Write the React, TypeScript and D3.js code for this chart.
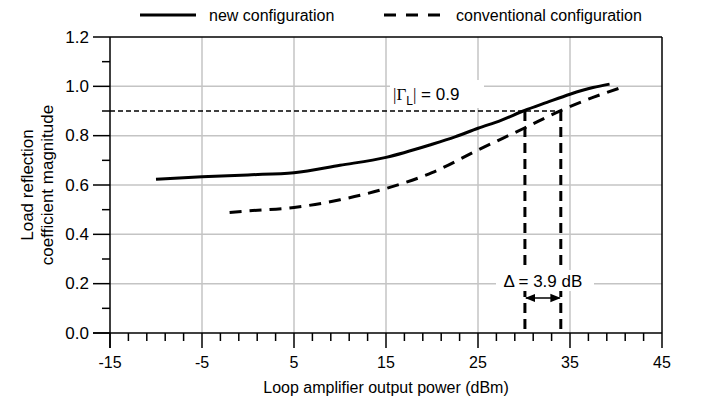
import * as d3 from "d3";

// new configuration (solid)
const newX = [-10, -5, 0, 5, 10, 15, 20, 22.5, 25, 27.5, 30, 32.5, 35, 37.5, 39.3];
const newY = [0.623, 0.633, 0.641, 0.65, 0.68, 0.712, 0.765, 0.795, 0.83, 0.862, 0.901, 0.935, 0.968, 0.995, 1.009];

// conventional configuration (dashed)
const convX = [-2, 0, 5, 10, 15, 20, 25, 30, 34, 37.5, 40.8];
const convY = [0.489, 0.495, 0.509, 0.54, 0.586, 0.65, 0.742, 0.83, 0.902, 0.955, 0.998];

const xMajor = [-15, -5, 5, 15, 25, 35, 45];
const yMajor = [0, 0.2, 0.4, 0.6, 0.8, 1.0, 1.2];
const yLabels = ["0.0", "0.2", "0.4", "0.6", "0.8", "1.0", "1.2"];

const gammaLevel = 0.9;
const newCross = 30.1;
const convCross = 34.0;

type Pt = { x: number; y: number };

export default function App() {
  const width = 701;
  const height = 407;
  const margin = { top: 37, right: 39, bottom: 74, left: 110 };
  const x = d3.scaleLinear().domain([-15, 45]).range([margin.left, width - margin.right]);
  const y = d3.scaleLinear().domain([0, 1.2]).range([height - margin.bottom, margin.top]);

  const xMinor = d3.range(-15, 45.01, 2).filter((v) => !xMajor.includes(v));
  const yMinor = d3.range(0.1, 1.2, 0.2);

  const line = d3.line<Pt>().x((d) => x(d.x)).y((d) => y(d.y)).curve(d3.curveMonotoneX);
  const newPath = line(newX.map((v, i) => ({ x: v, y: newY[i] })));
  const convPath = line(convX.map((v, i) => ({ x: v, y: convY[i] })));

  const font = "'Liberation Sans', Arial, sans-serif";
  const x0 = margin.left;
  const x1 = width - margin.right;
  const y0 = height - margin.bottom;
  const y1 = margin.top;

  return (
    <svg width={width} height={height} style={{ position: "absolute", left: 0, top: 0, background: "#fff" }} fontFamily={font}>
      <defs>
        <marker id="ah" viewBox="0 0 10 10" refX="9" refY="5" markerWidth="7" markerHeight="7" orient="auto-start-reverse">
          <path d="M0,1 L10,5 L0,9 z" fill="#000" />
        </marker>
      </defs>

      {/* grid */}
      {xMajor.slice(1, -1).map((t) => (
        <line key={`gx${t}`} x1={x(t)} x2={x(t)} y1={y1} y2={y0} stroke="#c4c4c4" strokeWidth={1.5} />
      ))}
      {yMajor.slice(1, -1).map((t) => (
        <line key={`gy${t}`} x1={x0} x2={x1} y1={y(t)} y2={y(t)} stroke="#c4c4c4" strokeWidth={1.5} />
      ))}

      {/* frame */}
      <line x1={x0} x2={x1} y1={y1} y2={y1} stroke="#000" strokeWidth={1.5} />
      <line x1={x1} x2={x1} y1={y1} y2={y0} stroke="#000" strokeWidth={1.5} />

      {/* y axis */}
      <line x1={x0} x2={x0} y1={y1} y2={y0 + 15} stroke="#000" strokeWidth={1.5} />
      {yMajor.map((t, i) => (
        <g key={`yt${t}`}>
          <line x1={x0 - 17} x2={x0} y1={y(t)} y2={y(t)} stroke="#000" strokeWidth={1.5} />
          <text x={x0 - 21} y={y(t)} textAnchor="end" dominantBaseline="central" fontSize={17}>
            {yLabels[i]}
          </text>
        </g>
      ))}
      {yMinor.map((t) => (
        <line key={`ym${t}`} x1={x0 - 8} x2={x0} y1={y(t)} y2={y(t)} stroke="#000" strokeWidth={1.5} />
      ))}

      {/* x axis */}
      <line x1={x0 - 17} x2={x1} y1={y0} y2={y0} stroke="#000" strokeWidth={1.5} />
      {xMajor.map((t) => (
        <g key={`xt${t}`}>
          <line x1={x(t)} x2={x(t)} y1={y0} y2={y0 + 15} stroke="#000" strokeWidth={1.5} />
          <text x={x(t)} y={y0 + 35} textAnchor="middle" fontSize={16}>
            {t}
          </text>
        </g>
      ))}
      {xMinor.map((t) => (
        <line key={`xm${t}`} x1={x(t)} x2={x(t)} y1={y0} y2={y0 + 8} stroke="#000" strokeWidth={1.5} />
      ))}

      {/* axis titles */}
      <text x={(x0 + x1) / 2} y={y0 + 60} textAnchor="middle" fontSize={16}>
        Loop amplifier output power (dBm)
      </text>
      <text transform={`translate(33,${(y0 + y1) / 2}) rotate(-90)`} textAnchor="middle" fontSize={17}>
        Load reflection
      </text>
      <text transform={`translate(53,${(y0 + y1) / 2}) rotate(-90)`} textAnchor="middle" fontSize={17}>
        coefficient magnitude
      </text>

      {/* reference lines */}
      <line x1={x0} x2={x(convCross)} y1={y(gammaLevel)} y2={y(gammaLevel)} stroke="#000" strokeWidth={1.5} strokeDasharray="5 3" />
      <line x1={x(newCross)} x2={x(newCross)} y1={y(gammaLevel)} y2={y0} stroke="#000" strokeWidth={3} strokeDasharray="10 6" />
      <line x1={x(convCross)} x2={x(convCross)} y1={y(gammaLevel)} y2={y0} stroke="#000" strokeWidth={3} strokeDasharray="10 6" />

      {/* curves */}
      {newPath && <path d={newPath} fill="none" stroke="#000" strokeWidth={3} />}
      {convPath && <path d={convPath} fill="none" stroke="#000" strokeWidth={3} strokeDasharray="12 8" />}

      {/* annotations */}
      <rect x={390} y={80} width={94} height={28} fill="#fff" />
      <text x={393} y={100} fontSize={17}>
        <tspan fontFamily="'Liberation Serif', serif">|Γ</tspan>
        <tspan fontSize={12} dy={5}>L</tspan>
        <tspan dy={-5} fontFamily="'Liberation Serif', serif">|</tspan>
        <tspan> = 0.9</tspan>
      </text>

      <rect x={496} y={270} width={98} height={21} fill="#fff" />
      <text x={(x(newCross) + x(convCross)) / 2} y={287} textAnchor="middle" fontSize={17}>
        Δ = 3.9 dB
      </text>
      <line x1={x(newCross) + 1} x2={x(convCross) - 1} y1={298} y2={298} stroke="#000" strokeWidth={1.5} markerStart="url(#ah)" markerEnd="url(#ah)" />

      {/* legend */}
      <line x1={140} x2={196} y1={15} y2={15} stroke="#000" strokeWidth={3} />
      <text x={209} y={15} dominantBaseline="central" fontSize={16}>
        new configuration
      </text>
      <line x1={384} x2={440} y1={15} y2={15} stroke="#000" strokeWidth={3} strokeDasharray="12 10" />
      <text x={456} y={15} dominantBaseline="central" fontSize={16}>
        conventional configuration
      </text>
    </svg>
  );
}
